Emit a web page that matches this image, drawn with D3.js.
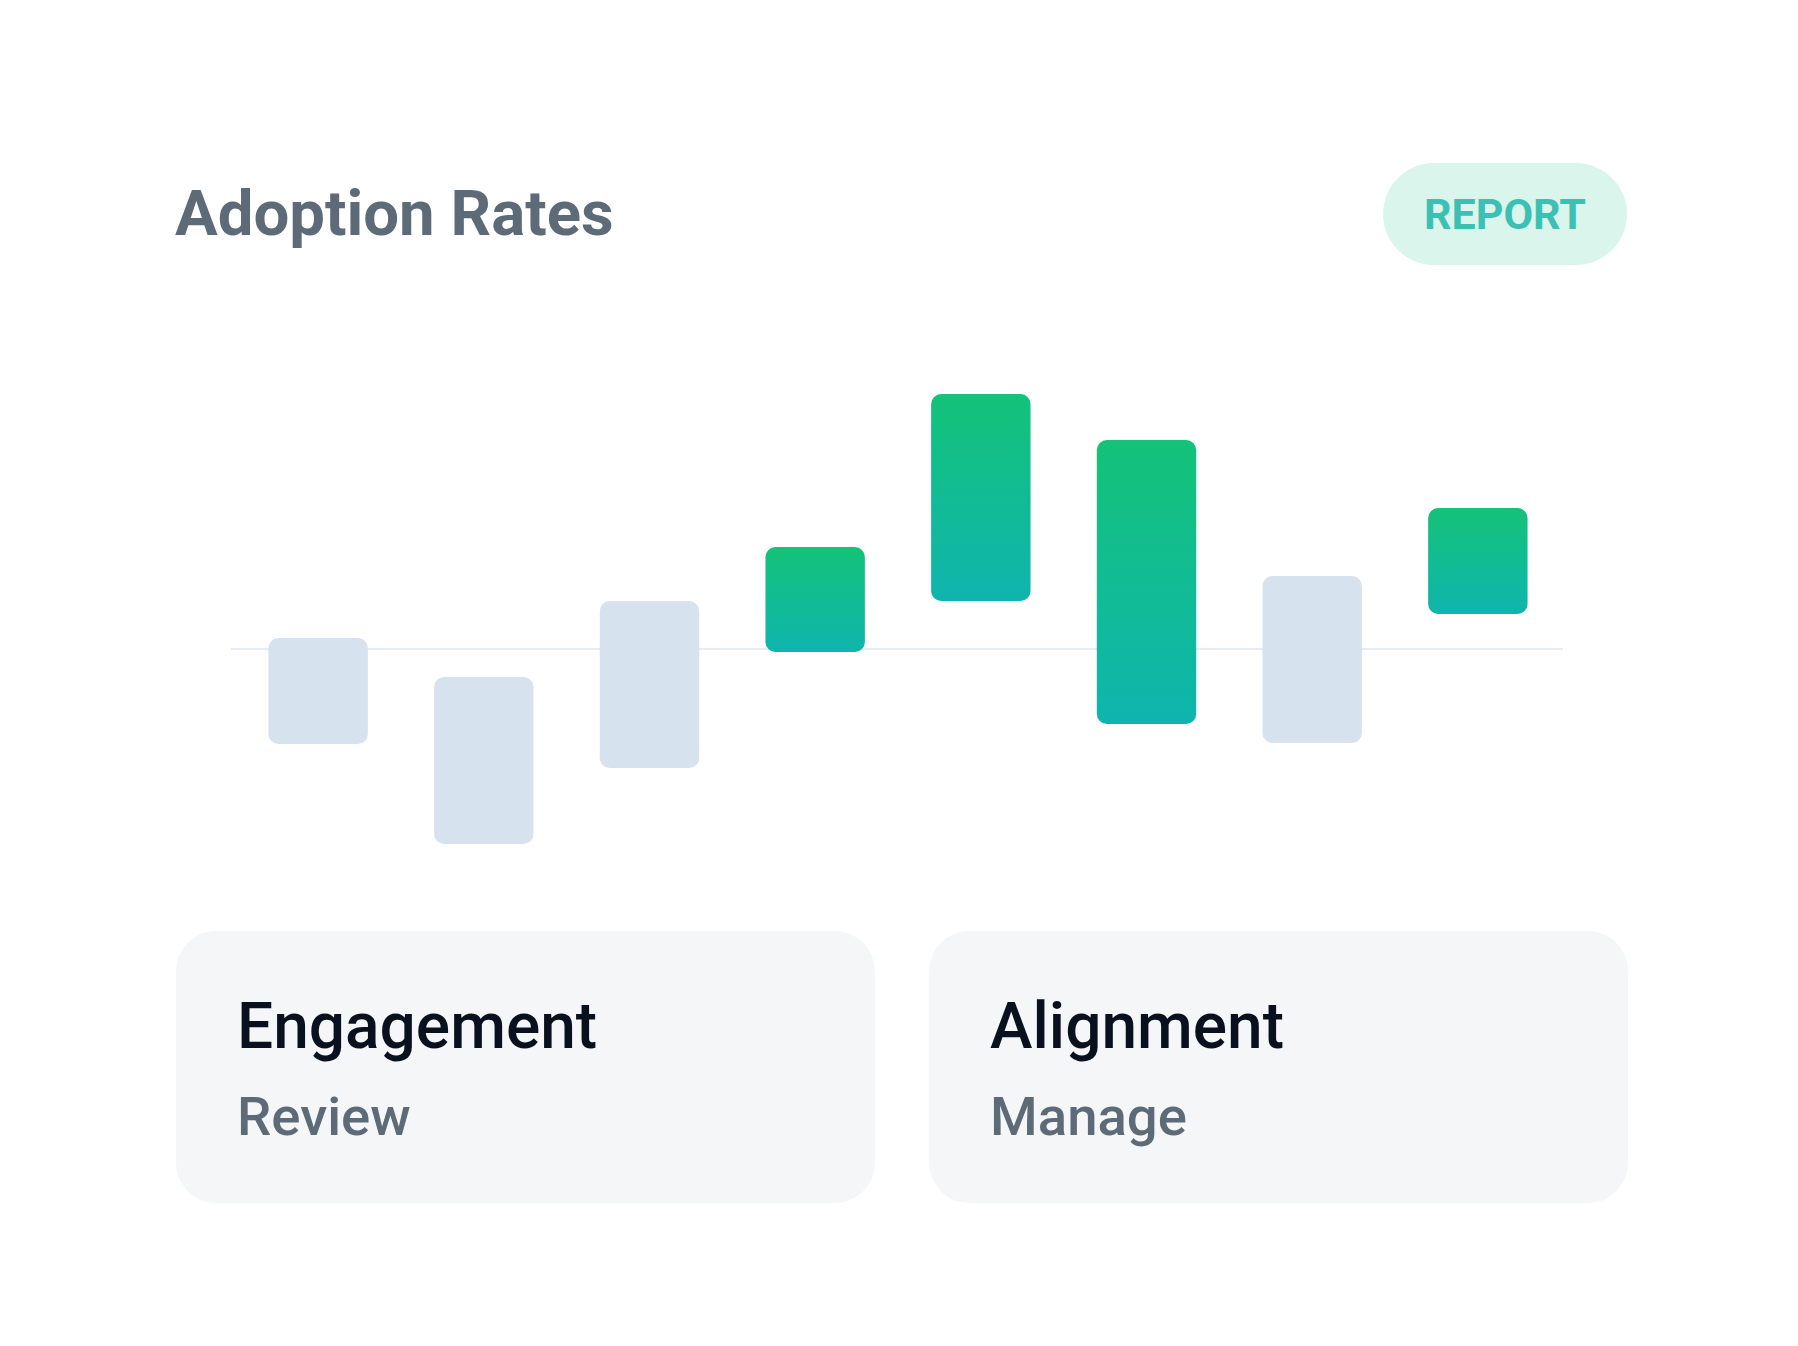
<!DOCTYPE html>
<html>
<head>
<meta charset="utf-8">
<script src="https://cdn.jsdelivr.net/npm/d3@7"></script>
<style>
  html, body { margin: 0; padding: 0; background: #ffffff; }
  svg { display: block; font-family: Roboto, "Noto Sans", sans-serif; }
</style>
</head>
<body>
<div id="chart"></div>
<script>
// floating bars: each one spans from low to high
const categories = ['P1', 'P2', 'P3', 'P4', 'P5', 'P6', 'P7', 'P8'];
const highValues = [1.1, -2.8, 4.8, 10.2, 25.5, 20.9, 7.3, 14.1];
const lowValues = [-9.5, -19.5, -11.9, -0.3, 4.8, -7.5, -9.4, 3.5];

const cardTitles = ['Engagement', 'Alignment'];
const cardSubtitles = ['Review', 'Manage'];

const W = 1798, H = 1346;

const svg = d3.select('#chart').append('svg')
    .attr('width', W)
    .attr('height', H);

const defs = svg.append('defs');
const grad = defs.append('linearGradient')
    .attr('id', 'barGrad')
    .attr('x1', 0).attr('y1', 0)
    .attr('x2', 0).attr('y2', 1);
grad.append('stop').attr('offset', '0%').attr('stop-color', '#14c278');
grad.append('stop').attr('offset', '100%').attr('stop-color', '#0fb5ae');

// header
svg.append('text')
    .attr('x', 175)
    .attr('y', 235)
    .text('Adoption Rates')
    .style('font-size', '63.5px')
    .style('font-weight', 700)
    .style('fill', '#5d6b78');

svg.append('rect')
    .attr('x', 1383).attr('y', 163)
    .attr('width', 244).attr('height', 102)
    .attr('rx', 51)
    .style('fill', '#d9f5ec');

svg.append('text')
    .attr('x', 1505)
    .attr('y', 229)
    .attr('text-anchor', 'middle')
    .text('REPORT')
    .style('font-size', '43px')
    .style('font-weight', 700)
    .style('fill', '#3dc0b4');

// bars
const data = categories.map((c, i) => ({ cat: c, lo: lowValues[i], hi: highValues[i] }));

const x = d3.scaleBand()
    .domain(categories)
    .range([232, 1564])
    .paddingInner(0.4)
    .paddingOuter(0.22);

const y = d3.scaleLinear()
    .domain([-20, 26])
    .range([849, 389]);

svg.append('line')
    .attr('x1', 231).attr('x2', 1563)
    .attr('y1', y(0)).attr('y2', y(0))
    .style('stroke', '#dde6ef')
    .style('stroke-width', 1.5);

svg.append('g')
    .selectAll('rect')
    .data(data)
    .enter().append('rect')
    .attr('x', d => x(d.cat))
    .attr('y', d => y(d.hi))
    .attr('width', x.bandwidth())
    .attr('height', d => y(d.lo) - y(d.hi))
    .attr('rx', 10)
    // green when the bar sits mostly above zero
    .style('fill', d => (d.lo + d.hi) / 2 > 0 ? 'url(#barGrad)' : '#d6e2ee');

// bottom cards
const cardX = d3.scaleBand()
    .domain(cardTitles)
    .range([176, 1628])
    .paddingInner(0.072);

const cards = svg.append('g')
    .selectAll('g')
    .data(cardTitles)
    .enter().append('g')
    .attr('transform', d => `translate(${cardX(d)},931)`);

cards.append('rect')
    .attr('width', cardX.bandwidth())
    .attr('height', 272)
    .attr('rx', 40)
    .style('fill', '#f4f6f8');

cards.append('text')
    .attr('x', 61)
    .attr('y', 117)
    .text(d => d)
    .style('font-size', '64px')
    .style('font-weight', 500)
    .style('fill', '#0a111e');

cards.append('text')
    .attr('x', 61)
    .attr('y', 204)
    .text((d, i) => cardSubtitles[i])
    .style('font-size', '54.5px')
    .style('font-weight', 500)
    .style('fill', '#5d6b78');
</script>
</body>
</html>
